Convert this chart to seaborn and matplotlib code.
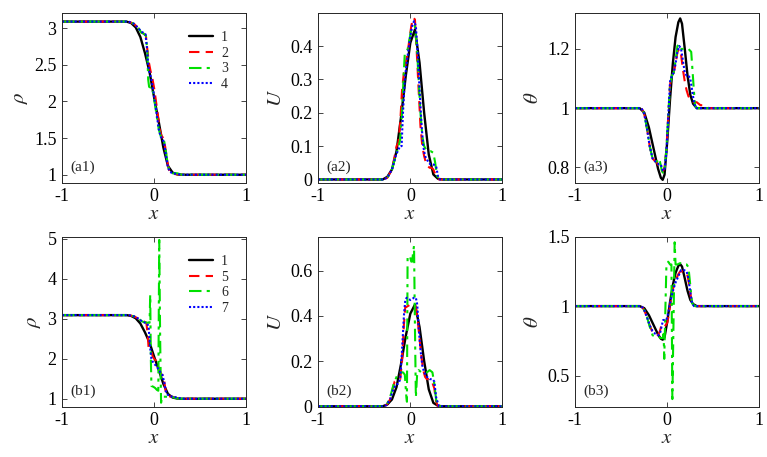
import numpy as np
import pandas as pd
import matplotlib
matplotlib.use("Agg")
import matplotlib.pyplot as plt
from matplotlib.ticker import FuncFormatter
import seaborn as sns

# ---------------- data ----------------
# reference solution (1) -- same in both rows
rho1_x = [-1, -0.3, -0.25, -0.2, -0.15, -0.1, -0.05, 0, 0.05, 0.1, 0.15, 0.2, 0.25, 0.3, 1]
rho1_y = [3.09, 3.09, 3.07, 3.01, 2.88, 2.66, 2.40, 2.05, 1.72, 1.37, 1.12, 1.03, 1.005, 1.0, 1.0]
u1_x = [-1, -0.3, -0.25, -0.2, -0.15, -0.1, -0.05, 0, 0.05, 0.1, 0.15, 0.2, 0.25, 0.3, 0.35, 1]
u1_y = [0, 0, 0.008, 0.03, 0.085, 0.19, 0.31, 0.41, 0.45, 0.35, 0.2, 0.075, 0.015, 0.002, 0, 0]
th1_x = [-1, -0.3, -0.25, -0.2, -0.15, -0.1, -0.07, -0.05, -0.03, 0, 0.03, 0.06, 0.09, 0.12, 0.14, 0.16, 0.19, 0.22, 0.25, 0.28, 0.32, 1]
th1_y = [1, 1, 0.985, 0.935, 0.865, 0.795, 0.765, 0.758, 0.775, 0.89, 1.03, 1.15, 1.24, 1.29, 1.303, 1.285, 1.2, 1.11, 1.045, 1.015, 1.0, 1.0]

# row a: series 2, 3, 4
a1_x2 = [-1, -0.28, -0.22, -0.17, -0.14, -0.12, -0.09, -0.075, -0.06, -0.04, -0.02, 0, 0.02, 0.04, 0.06, 0.08, 0.1, 0.12, 0.14, 0.16, 0.18, 0.22, 0.3, 1]
a1_y2 = [3.09, 3.09, 3.06, 3.0, 2.94, 2.93, 2.9, 2.72, 2.55, 2.42, 2.32, 2.18, 2.0, 1.82, 1.62, 1.53, 1.5, 1.38, 1.2, 1.07, 1.03, 1.01, 1.0, 1.0]
a1_x3 = [-1, -0.28, -0.22, -0.17, -0.14, -0.12, -0.09, -0.075, -0.065, -0.055, -0.04, -0.025, -0.01, 0.01, 0.03, 0.05, 0.07, 0.09, 0.11, 0.13, 0.15, 0.17, 0.2, 0.25, 0.3, 1]
a1_y3 = [3.09, 3.09, 3.06, 3.0, 2.94, 2.93, 2.9, 2.7, 2.3, 2.2, 2.19, 2.2, 2.1, 1.95, 1.78, 1.62, 1.53, 1.51, 1.45, 1.3, 1.12, 1.04, 1.02, 1.02, 1.0, 1.0]
a1_x4 = [-1, -0.28, -0.22, -0.17, -0.14, -0.12, -0.095, -0.08, -0.065, -0.05, -0.03, -0.01, 0.01, 0.03, 0.05, 0.07, 0.09, 0.11, 0.13, 0.15, 0.17, 0.2, 0.3, 1]
a1_y4 = [3.09, 3.09, 3.06, 3.0, 2.95, 2.94, 2.92, 2.75, 2.5, 2.4, 2.3, 2.15, 1.98, 1.8, 1.62, 1.52, 1.5, 1.42, 1.25, 1.1, 1.04, 1.02, 1.0, 1.0]

a2_x2 = [-1, -0.3, -0.25, -0.2, -0.17, -0.15, -0.13, -0.11, -0.09, -0.07, -0.05, -0.03, -0.01, 0.01, 0.03, 0.05, 0.07, 0.09, 0.11, 0.13, 0.15, 0.17, 0.19, 0.21, 0.23, 0.25, 0.28, 0.31, 1]
a2_y2 = [0, 0, 0.005, 0.03, 0.07, 0.1, 0.11, 0.17, 0.27, 0.32, 0.35, 0.38, 0.42, 0.46, 0.485, 0.48, 0.38, 0.27, 0.16, 0.1, 0.07, 0.05, 0.04, 0.035, 0.035, 0.03, 0.01, 0, 0]
a2_x3 = [-1, -0.3, -0.25, -0.2, -0.16, -0.13, -0.11, -0.09, -0.075, -0.06, -0.045, -0.03, -0.01, 0.01, 0.03, 0.05, 0.07, 0.09, 0.11, 0.13, 0.15, 0.17, 0.19, 0.22, 0.25, 0.27, 0.29, 0.32, 1]
a2_y3 = [0, 0, 0.005, 0.03, 0.07, 0.095, 0.12, 0.2, 0.3, 0.38, 0.385, 0.39, 0.42, 0.45, 0.46, 0.46, 0.4, 0.3, 0.2, 0.13, 0.1, 0.09, 0.085, 0.085, 0.08, 0.05, 0.01, 0, 0]
a2_x4 = [-1, -0.3, -0.25, -0.2, -0.16, -0.13, -0.11, -0.095, -0.08, -0.06, -0.04, -0.02, 0, 0.02, 0.04, 0.06, 0.08, 0.1, 0.12, 0.14, 0.16, 0.18, 0.2, 0.22, 0.25, 0.28, 0.3, 0.32, 1]
a2_y4 = [0, 0, 0.005, 0.03, 0.07, 0.09, 0.1, 0.1, 0.2, 0.3, 0.35, 0.39, 0.43, 0.46, 0.475, 0.46, 0.38, 0.27, 0.17, 0.1, 0.07, 0.06, 0.05, 0.045, 0.045, 0.04, 0.01, 0, 0]

a3_x2 = [-1, -0.28, -0.25, -0.22, -0.19, -0.16, -0.13, -0.11, -0.09, -0.07, -0.05, -0.03, -0.01, 0.01, 0.03, 0.05, 0.07, 0.09, 0.11, 0.13, 0.15, 0.17, 0.19, 0.21, 0.23, 0.25, 0.28, 0.32, 0.36, 0.4, 0.45, 1]
a3_y2 = [1, 1, 0.98, 0.93, 0.87, 0.83, 0.82, 0.815, 0.8, 0.8, 0.785, 0.8, 0.86, 0.97, 1.08, 1.11, 1.12, 1.15, 1.19, 1.2, 1.18, 1.13, 1.09, 1.06, 1.04, 1.03, 1.02, 1.02, 1.01, 1.01, 1.0, 1.0]
a3_x3 = [-1, -0.28, -0.25, -0.22, -0.19, -0.16, -0.13, -0.11, -0.095, -0.08, -0.06, -0.045, -0.03, -0.01, 0.01, 0.03, 0.05, 0.07, 0.09, 0.11, 0.13, 0.15, 0.17, 0.2, 0.23, 0.26, 0.28, 0.3, 0.32, 1]
a3_y3 = [1, 1, 0.98, 0.93, 0.87, 0.83, 0.82, 0.82, 0.83, 0.82, 0.79, 0.78, 0.79, 0.86, 0.97, 1.08, 1.11, 1.12, 1.16, 1.21, 1.215, 1.2, 1.2, 1.2, 1.2, 1.19, 1.1, 1.01, 1.0, 1.0]
a3_x4 = [-1, -0.28, -0.25, -0.22, -0.19, -0.16, -0.13, -0.11, -0.09, -0.07, -0.05, -0.03, -0.01, 0.01, 0.03, 0.05, 0.07, 0.09, 0.11, 0.13, 0.15, 0.17, 0.19, 0.21, 0.23, 0.25, 0.27, 0.29, 0.31, 1]
a3_y4 = [1, 1, 0.98, 0.93, 0.87, 0.83, 0.82, 0.815, 0.81, 0.81, 0.79, 0.79, 0.85, 0.97, 1.09, 1.11, 1.12, 1.15, 1.19, 1.21, 1.2, 1.16, 1.12, 1.11, 1.11, 1.1, 1.06, 1.02, 1.0, 1.0]

# row b: series 5, 6, 7
b1_x5 = [-1, -0.28, -0.22, -0.17, -0.14, -0.11, -0.085, -0.07, -0.06, -0.045, -0.03, -0.015, 0.0, 0.02, 0.04, 0.06, 0.08, 0.1, 0.115, 0.13, 0.16, 0.2, 0.24, 0.3, 1]
b1_y5 = [3.09, 3.09, 3.06, 3.0, 2.94, 2.93, 2.9, 2.6, 2.25, 2.2, 2.18, 2.05, 2.0, 1.95, 1.85, 1.7, 1.6, 1.58, 1.35, 1.1, 1.06, 1.05, 1.02, 1.0, 1.0]
b1_x6 = [-1, -0.28, -0.22, -0.17, -0.13, -0.1, -0.07, -0.05, -0.043, -0.036, -0.03, -0.01, 0.01, 0.03, 0.045, 0.055, 0.065, 0.075, 0.085, 0.1, 0.15, 0.2, 0.25, 0.3, 1]
b1_y6 = [3.09, 3.09, 3.06, 3.0, 2.93, 2.91, 2.9, 2.9, 3.6, 2.0, 1.32, 1.3, 1.27, 1.22, 1.2, 4.97, 2.5, 0.9, 1.05, 1.05, 1.05, 1.04, 1.01, 1.0, 1.0]
b1_x7 = [-1, -0.28, -0.22, -0.17, -0.13, -0.1, -0.075, -0.06, -0.045, -0.03, -0.01, 0.01, 0.03, 0.05, 0.07, 0.09, 0.11, 0.13, 0.16, 0.2, 0.25, 0.3, 1]
b1_y7 = [3.09, 3.09, 3.06, 3.0, 2.93, 2.9, 2.88, 2.8, 2.3, 2.0, 1.9, 1.85, 1.8, 1.72, 1.65, 1.6, 1.4, 1.15, 1.07, 1.05, 1.03, 1.0, 1.0]

b2_x5 = [-1, -0.3, -0.26, -0.22, -0.19, -0.17, -0.14, -0.11, -0.09, -0.07, -0.055, -0.04, -0.02, 0.0, 0.02, 0.04, 0.06, 0.08, 0.1, 0.12, 0.14, 0.16, 0.18, 0.2, 0.23, 0.26, 0.28, 0.3, 1]
b2_y5 = [0, 0, 0.005, 0.03, 0.08, 0.11, 0.12, 0.12, 0.2, 0.36, 0.44, 0.44, 0.445, 0.45, 0.45, 0.45, 0.44, 0.38, 0.3, 0.22, 0.16, 0.13, 0.12, 0.12, 0.115, 0.08, 0.02, 0, 0]
b2_x6 = [-1, -0.3, -0.26, -0.22, -0.18, -0.14, -0.12, -0.1, -0.08, -0.06, -0.045, -0.037, -0.03, -0.02, -0.005, 0.01, 0.02, 0.03, 0.04, 0.05, 0.06, 0.075, 0.09, 0.12, 0.15, 0.18, 0.21, 0.24, 0.26, 0.28, 0.3, 1]
b2_y6 = [0, 0, 0.005, 0.04, 0.1, 0.14, 0.15, 0.15, 0.15, 0.14, 0.05, 0.02, 0.66, 0.66, 0.665, 0.64, 0.64, 0.68, 0.71, 0.35, 0.04, 0.15, 0.16, 0.15, 0.15, 0.15, 0.16, 0.15, 0.1, 0.03, 0, 0]
b2_x7 = [-1, -0.3, -0.26, -0.22, -0.19, -0.16, -0.13, -0.11, -0.09, -0.07, -0.055, -0.04, -0.02, 0.0, 0.02, 0.04, 0.06, 0.075, 0.09, 0.11, 0.13, 0.15, 0.18, 0.21, 0.24, 0.26, 0.28, 0.31, 1]
b2_y7 = [0, 0, 0.005, 0.03, 0.07, 0.095, 0.1, 0.12, 0.25, 0.4, 0.47, 0.48, 0.475, 0.47, 0.475, 0.48, 0.48, 0.45, 0.35, 0.25, 0.18, 0.15, 0.13, 0.12, 0.12, 0.11, 0.04, 0, 0]

b3_x5 = [-1, -0.28, -0.25, -0.22, -0.19, -0.16, -0.13, -0.1, -0.08, -0.06, -0.04, -0.02, 0.0, 0.02, 0.04, 0.06, 0.08, 0.1, 0.12, 0.14, 0.17, 0.2, 0.22, 0.24, 0.26, 0.28, 0.3, 1]
b3_y5 = [1, 1, 0.97, 0.92, 0.86, 0.81, 0.8, 0.79, 0.82, 0.87, 0.875, 0.86, 0.88, 0.95, 1.05, 1.12, 1.17, 1.2, 1.23, 1.25, 1.25, 1.25, 1.22, 1.15, 1.05, 1.01, 1.0, 1.0]
b3_x6 = [-1, -0.28, -0.25, -0.22, -0.19, -0.16, -0.13, -0.1, -0.07, -0.05, -0.04, -0.033, -0.02, -0.01, 0.01, 0.03, 0.045, 0.055, 0.068, 0.08, 0.09, 0.11, 0.14, 0.18, 0.21, 0.23, 0.25, 0.27, 0.3, 1]
b3_y6 = [1, 1, 0.97, 0.92, 0.85, 0.79, 0.78, 0.78, 0.77, 0.77, 0.8, 0.62, 1.0, 1.28, 1.32, 1.3, 1.3, 0.33, 0.9, 1.46, 1.3, 1.3, 1.31, 1.3, 1.3, 1.28, 1.15, 1.02, 1.0, 1.0]
b3_x7 = [-1, -0.28, -0.25, -0.22, -0.19, -0.16, -0.13, -0.1, -0.08, -0.06, -0.045, -0.03, -0.01, 0.01, 0.03, 0.05, 0.07, 0.09, 0.11, 0.13, 0.15, 0.18, 0.21, 0.23, 0.25, 0.27, 0.29, 1]
b3_y7 = [1, 1, 0.97, 0.92, 0.86, 0.82, 0.8, 0.79, 0.8, 0.86, 0.9, 0.9, 0.9, 0.95, 1.02, 1.08, 1.13, 1.17, 1.2, 1.23, 1.26, 1.26, 1.25, 1.2, 1.1, 1.02, 1.0, 1.0]

legend_a = ["1", "2", "3", "4"]
legend_b = ["1", "5", "6", "7"]
panel_labels = ["(a1)", "(a2)", "(a3)", "(b1)", "(b2)", "(b3)"]
ylabels = [r"$\rho$", r"$U$", r"$\theta$"]
xticks = [-1, 0, 1]
yticks = [[1, 1.5, 2, 2.5, 3], [0, 0.1, 0.2, 0.3, 0.4], [0.8, 1, 1.2],
          [1, 2, 3, 4, 5], [0, 0.2, 0.4, 0.6], [0.5, 1, 1.5]]
ylims = [(0.89, 3.21), (-0.01, 0.5), (0.748, 1.322),
         (0.8, 5.05), (-0.002, 0.75), (0.275, 1.5)]

# ---------------- style ----------------
sns.set_style("ticks")
plt.rcParams["font.family"] = ["Liberation Serif", "DejaVu Serif"]
plt.rcParams["mathtext.fontset"] = "stix"
plt.rcParams["axes.unicode_minus"] = False
plt.rcParams["xtick.direction"] = "in"
plt.rcParams["ytick.direction"] = "in"

colors = ["black", "#ff0000", "#00e000", "#0000ff"]
styles = ["-", (0, (5, 3)), (0, (6, 2.5, 1.5, 2.5)), (0, (1, 1))]

fig = plt.figure(figsize=(7.67, 4.57), dpi=100)
lefts = [0.081, 0.415, 0.750]
bottoms = [0.600, 0.110]
W, H = 0.240, 0.372

series = [
    [(rho1_x, rho1_y), (a1_x2, a1_y2), (a1_x3, a1_y3), (a1_x4, a1_y4)],
    [(u1_x, u1_y), (a2_x2, a2_y2), (a2_x3, a2_y3), (a2_x4, a2_y4)],
    [(th1_x, th1_y), (a3_x2, a3_y2), (a3_x3, a3_y3), (a3_x4, a3_y4)],
    [(rho1_x, rho1_y), (b1_x5, b1_y5), (b1_x6, b1_y6), (b1_x7, b1_y7)],
    [(u1_x, u1_y), (b2_x5, b2_y5), (b2_x6, b2_y6), (b2_x7, b2_y7)],
    [(th1_x, th1_y), (b3_x5, b3_y5), (b3_x6, b3_y6), (b3_x7, b3_y7)],
]

fmt = FuncFormatter(lambda v, p: "%g" % v)

for i in range(6):
    r, c = divmod(i, 3)
    ax = fig.add_axes([lefts[c], bottoms[r], W, H])
    labels = legend_a if r == 0 else legend_b
    for k, (xs, ys) in enumerate(series[i]):
        df = pd.DataFrame({"x": xs, "y": ys})
        sns.lineplot(data=df, x="x", y="y", ax=ax, color=colors[k],
                     linestyle=styles[k], linewidth=1.7 if k == 0 else 1.5,
                     sort=False, estimator=None,
                     label=labels[k] if c == 0 else None)
    ax.set_xlim(-1, 1)
    ax.set_ylim(*ylims[i])
    ax.set_xticks(xticks)
    ax.set_yticks(yticks[i])
    ax.xaxis.set_major_formatter(fmt)
    ax.yaxis.set_major_formatter(fmt)
    ax.tick_params(axis="both", which="both", direction="in", top=True,
                   right=True, length=3.5, width=0.6, labelsize=13, pad=4,
                   colors="#262626", labelcolor="black")
    for sp in ax.spines.values():
        sp.set_linewidth(0.7)
        sp.set_color("#262626")
    ax.set_xlabel(r"$x$", fontsize=15, labelpad=0)
    ax.set_ylabel(ylabels[c], fontsize=15, labelpad=3)
    ax.text(0.045, 0.05, panel_labels[i], transform=ax.transAxes,
            ha="left", va="bottom", fontsize=11)
    if c == 0:
        ax.legend(loc="upper right", frameon=False, fontsize=10,
                  handlelength=1.7, handletextpad=0.6, labelspacing=0.2,
                  borderaxespad=0.9)
    else:
        leg = ax.get_legend()
        if leg is not None:
            leg.remove()

fig.savefig("out.png", dpi=100, facecolor="white")
